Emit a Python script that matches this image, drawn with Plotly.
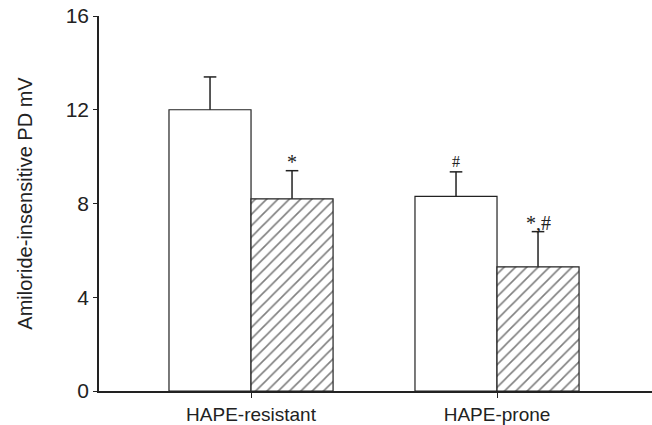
import plotly.graph_objects as go

categories = ["HAPE-resistant", "HAPE-prone"]
series_a = [12.0, 8.3]        # open bars
series_a_err = [1.4, 1.05]
series_b = [8.2, 5.3]         # hatched bars
series_b_err = [1.2, 1.5]
labels_b = ["*", "*,#"]
labels_a = ["", "#"]
y_ticks = [0, 4, 8, 12, 16]

xpos = list(range(len(categories)))
FONT = "Liberation Sans, Arial, sans-serif"
LC = "#222222"
OFF = 1 / 6

fig = go.Figure()
fig.add_trace(go.Bar(
    x=xpos, y=series_a,
    marker=dict(color="white", line=dict(color=LC, width=1.2)),
    showlegend=False,
))
fig.add_trace(go.Bar(
    x=xpos, y=series_b,
    marker=dict(color="white", line=dict(color=LC, width=1.2),
                pattern=dict(shape="/", size=8, solidity=0.2, fgcolor="#000000", bgcolor="white")),
    showlegend=False,
))

# upward-only error bars (stem + top cap)
def err_trace(vals, errs, off):
    xs, ys = [], []
    for i, (v, e) in enumerate(zip(vals, errs)):
        xs += [i + off, i + off, None]
        ys += [v, v + e, None]
    return go.Scatter(x=xs, y=ys, mode="lines", line=dict(color=LC, width=1.5),
                      showlegend=False, hoverinfo="skip")

def cap_trace(vals, errs, off):
    return go.Scatter(x=[i + off for i in range(len(vals))],
                      y=[v + e for v, e in zip(vals, errs)], mode="markers",
                      marker=dict(symbol="line-ew", size=9, line=dict(color=LC, width=1.5)),
                      showlegend=False, hoverinfo="skip")

fig.add_trace(err_trace(series_a, series_a_err, -OFF))
fig.add_trace(err_trace(series_b, series_b_err, OFF))
fig.add_trace(cap_trace(series_a, series_a_err, -OFF))
fig.add_trace(cap_trace(series_b, series_b_err, OFF))

for i, (v, e, t) in enumerate(zip(series_a, series_a_err, labels_a)):
    if t:
        fig.add_annotation(x=i - OFF, y=v + e, text=t, showarrow=False, yshift=10,
                           font=dict(family="Liberation Serif, Times New Roman, serif", size=16, color=LC))
for i, (v, e, t) in enumerate(zip(series_b, series_b_err, labels_b)):
    if t:
        fig.add_annotation(x=i + OFF, y=v + e, text=t, showarrow=False, yshift=9,
                           font=dict(family="Liberation Serif, Times New Roman, serif", size=20, color=LC))

fig.update_layout(
    width=652, height=425,
    margin=dict(l=99, r=0, t=16, b=31),
    plot_bgcolor="white", paper_bgcolor="white",
    barmode="group", bargap=0.333, bargroupgap=0,
    font=dict(family=FONT, size=21, color=LC),
    xaxis=dict(range=[-0.618, 1.63], tickvals=xpos, ticktext=categories,
               showline=True, linecolor=LC, linewidth=1.5, ticks="outside",
               ticklen=5, tickcolor=LC, showgrid=False, zeroline=False,
               tickfont=dict(size=19)),
    yaxis=dict(range=[0, 16], tickvals=y_ticks, showline=True, linecolor=LC,
               linewidth=1.5, ticks="outside", ticklen=4, tickcolor=LC,
               showgrid=False, zeroline=False,
               title=dict(text="Amiloride-insensitive PD mV", standoff=28,
                          font=dict(size=20)),
               tickfont=dict(size=21)),
)

fig.write_html("out.html")
